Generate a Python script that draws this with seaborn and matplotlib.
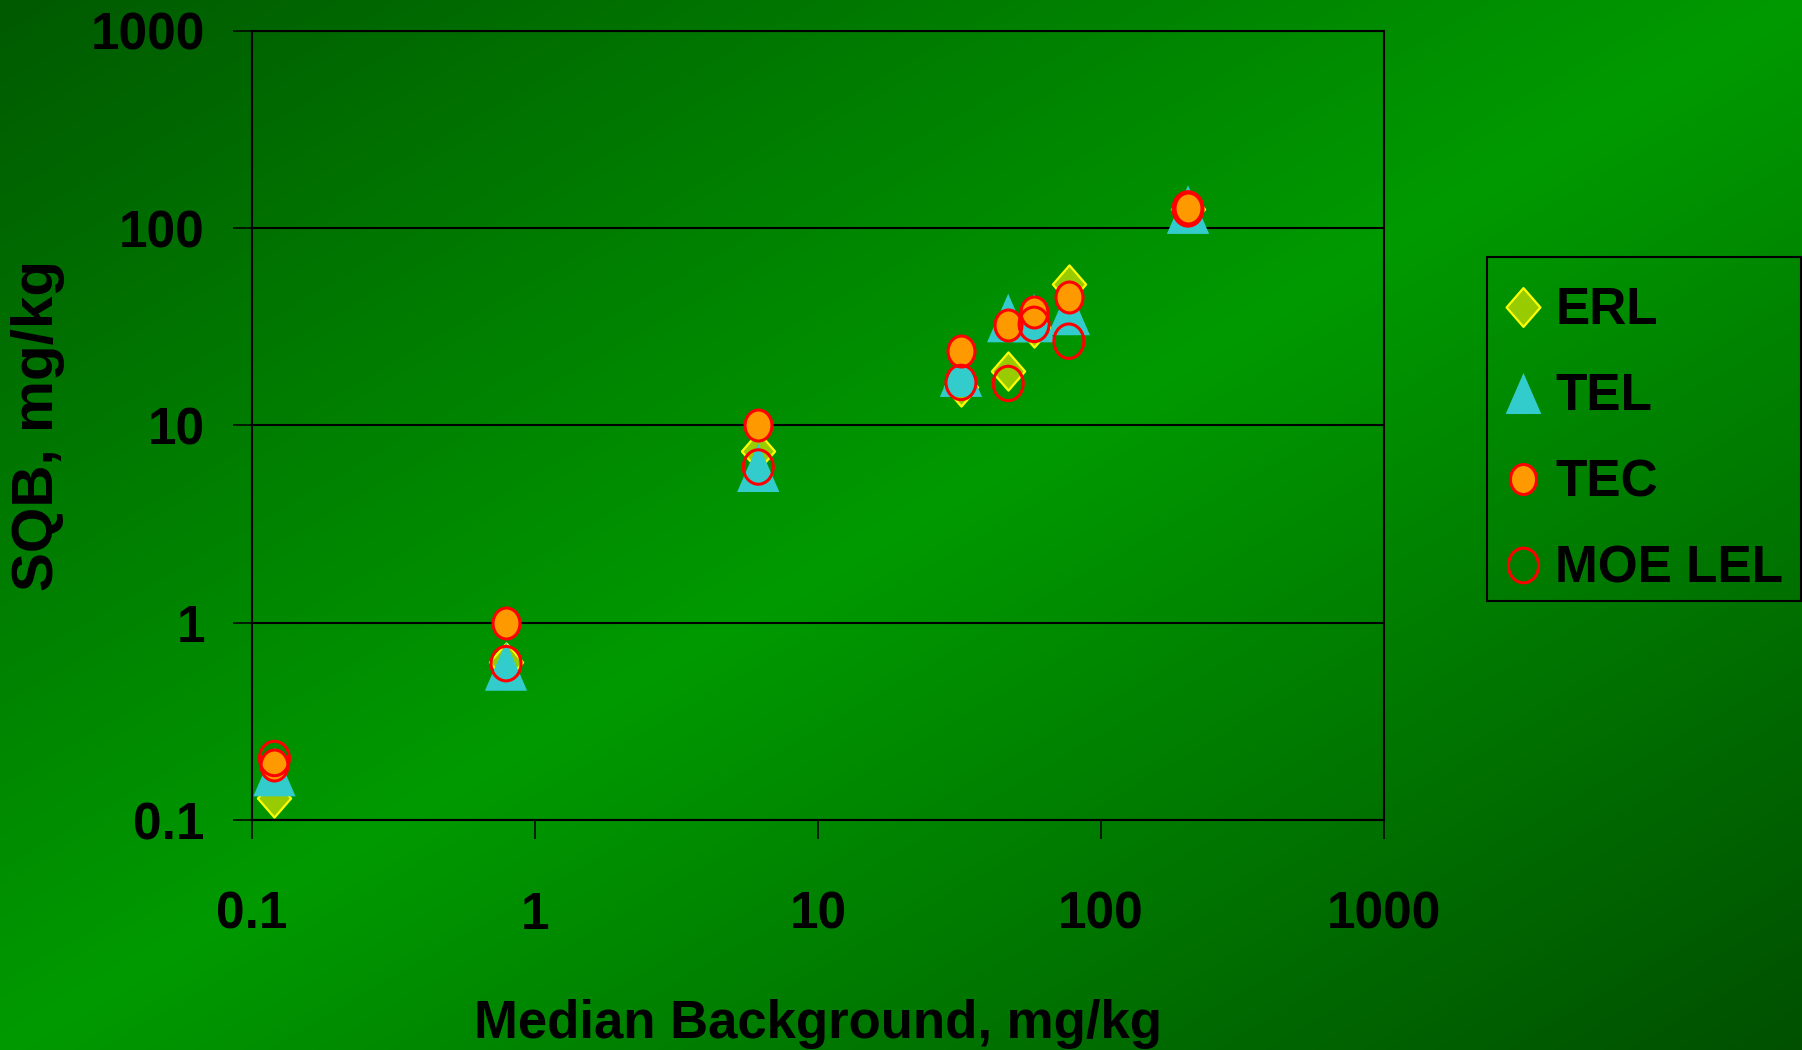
import numpy as np
import pandas as pd
import matplotlib
matplotlib.use("Agg")
import matplotlib.pyplot as plt
import seaborn as sns
from matplotlib.path import Path
from matplotlib.transforms import Affine2D
from matplotlib.lines import Line2D
from matplotlib.patches import Rectangle
from matplotlib.ticker import FixedLocator, FuncFormatter, NullLocator

# ---------------- data ----------------
median_background = [0.12, 0.79, 6.15, 32, 47, 58, 77, 203]
erl = [0.13, 0.63, 7.4, 15.7, 18.8, 31, 52, 125]
tel = [0.175, 0.60, 6.1, 18.5, 35, 35, 38, 124]
tec = [0.19, 1.0, 10.0, 23.8, 32.3, 37.5, 44.8, 126]
moe_lel = [0.205, 0.62, 6.15, 16.5, 16.3, 32.5, 26.7, 125]
series_names = ["ERL", "TEL", "TEC", "MOE LEL"]
tick_values = [0.1, 1, 10, 100, 1000]
x_label = "Median Background, mg/kg"
y_label = "SQB, mg/kg"

df = pd.DataFrame({
    "x": median_background * 4,
    "y": erl + tel + tec + moe_lel,
    "series": [n for n in series_names for _ in median_background],
})

sns.set_theme(style="white")
FAMILY = ["Liberation Sans", "DejaVu Sans"]
plt.rcParams["font.family"] = FAMILY
plt.rcParams["font.weight"] = "bold"

W_PX, H_PX = 1802, 1050
fig = plt.figure(figsize=(W_PX / 100, H_PX / 100), dpi=100)

# ---------------- diagonal green gradient background ----------------
bg = fig.add_axes([0, 0, 1, 1])
bg.set_axis_off()
gh, gw = 350, 600
yy, xx = np.mgrid[0:gh, 0:gw]
t = (xx / (gw - 1) + yy / (gh - 1)) / 2
g = np.where(t < 0.5, 0x5a + (0x9a - 0x5a) * t / 0.5,
             0x9a + (0x50 - 0x9a) * (t - 0.5) / 0.5) / 255.0
img = np.zeros((gh, gw, 3))
img[..., 1] = g
bg.imshow(img, aspect="auto", extent=[0, 1, 0, 1], origin="upper", interpolation="bilinear")
bg.set_xlim(0, 1)
bg.set_ylim(0, 1)

# ---------------- markers (slightly squeezed horizontally) ----------------
SQ = 0.87
diamond = Path([(0, 1), (SQ, 0), (0, -1), (-SQ, 0), (0, 1)],
               [Path.MOVETO, Path.LINETO, Path.LINETO, Path.LINETO, Path.CLOSEPOLY])
triangle = Path([(0, 1), (-SQ, -1), (SQ, -1), (0, 1)],
                [Path.MOVETO, Path.LINETO, Path.LINETO, Path.CLOSEPOLY])
ellipse = Affine2D().scale(SQ, 1.0).transform_path(Path.unit_circle())

styles = {
    "ERL": dict(marker=diamond, s=27.5 ** 2, color="#99CC00", edgecolor="#FFFF00", linewidth=1.6),
    "TEL": dict(marker=triangle, s=35 ** 2, color="#33CCCC", edgecolor="none", linewidth=0),
    "TEC": dict(marker=ellipse, s=22.3 ** 2, color="#FF9900", edgecolor="#FF0000", linewidth=2.2),
    "MOE LEL": dict(marker=ellipse, s=24.8 ** 2, color="#FF0000", facecolor="none",
                    edgecolor="#FF0000", linewidth=2.2),
}

ax = fig.add_axes([252 / W_PX, 1 - 820 / H_PX, (1384 - 252) / W_PX, (820 - 30.7) / H_PX])
ax.set_facecolor("none")
ax.set_xscale("log")
ax.set_yscale("log")

for z, name in enumerate(series_names):
    sub = df[df["series"] == name]
    sns.scatterplot(data=sub, x="x", y="y", ax=ax, legend=False, zorder=3 + z,
                    **styles[name])

ax.set_xlim(0.1, 1000)
ax.set_ylim(0.1, 1000)

fmt = FuncFormatter(lambda v, p: f"{v:g}")
for axis in (ax.xaxis, ax.yaxis):
    axis.set_major_locator(FixedLocator(tick_values))
    axis.set_major_formatter(fmt)
    axis.set_minor_locator(NullLocator())

ax.yaxis.grid(True, color="black", linewidth=1.5)
ax.xaxis.grid(False)
ax.set_axisbelow(True)
for sp in ax.spines.values():
    sp.set_visible(True)
    sp.set_color("black")
    sp.set_linewidth(1.5)

ax.tick_params(axis="both", which="major", direction="out", length=14, width=1.1,
               color="black", labelcolor="black", labelsize=37,
               bottom=True, left=True, top=False, right=False)
ax.tick_params(axis="y", pad=20)
ax.tick_params(axis="x", pad=37)
for lab in ax.get_xticklabels() + ax.get_yticklabels():
    lab.set_fontweight("bold")

ax.set_xlabel(x_label, fontsize=38, fontweight="bold", color="black")
ax.set_ylabel(y_label, fontsize=42, fontweight="bold", color="black")
ax.xaxis.set_label_coords(0.5, (820 - 999) / (820 - 30.7))
ax.yaxis.set_label_coords((65 - 252) / (1384 - 252), 0.5)

# ---------------- legend ----------------
handles = [
    Line2D([], [], ls="none", marker=diamond, markersize=28, markerfacecolor="#99CC00",
           markeredgecolor="#FFFF00", markeredgewidth=1.6),
    Line2D([], [], ls="none", marker=triangle, markersize=29.5, markerfacecolor="#33CCCC",
           markeredgecolor="#33CCCC", markeredgewidth=0),
    Line2D([], [], ls="none", marker=ellipse, markersize=21.6, markerfacecolor="#FF9900",
           markeredgecolor="#FF0000", markeredgewidth=2.2),
    Line2D([], [], ls="none", marker=ellipse, markersize=25, markerfacecolor="none",
           markeredgecolor="#FF0000", markeredgewidth=2.2),
]
leg = fig.legend(handles, series_names, loc="upper left",
                 bbox_to_anchor=(1502.5 / W_PX, 1 - 286.5 / H_PX), bbox_transform=fig.transFigure,
                 frameon=False, borderpad=0, borderaxespad=0, handlelength=0.8,
                 handletextpad=0.23, labelspacing=0.72,
                 prop={"family": FAMILY, "weight": "bold", "size": 37})
for txt in leg.get_texts():
    txt.set_color("black")

# legend box outline
fig.patches.append(Rectangle((1487 / W_PX, 1 - 601 / H_PX), (1801 - 1487) / W_PX,
                             (601 - 257) / H_PX, transform=fig.transFigure, fill=False,
                             edgecolor="black", linewidth=1.5, zorder=5))

fig.savefig("out.png", dpi=100)
